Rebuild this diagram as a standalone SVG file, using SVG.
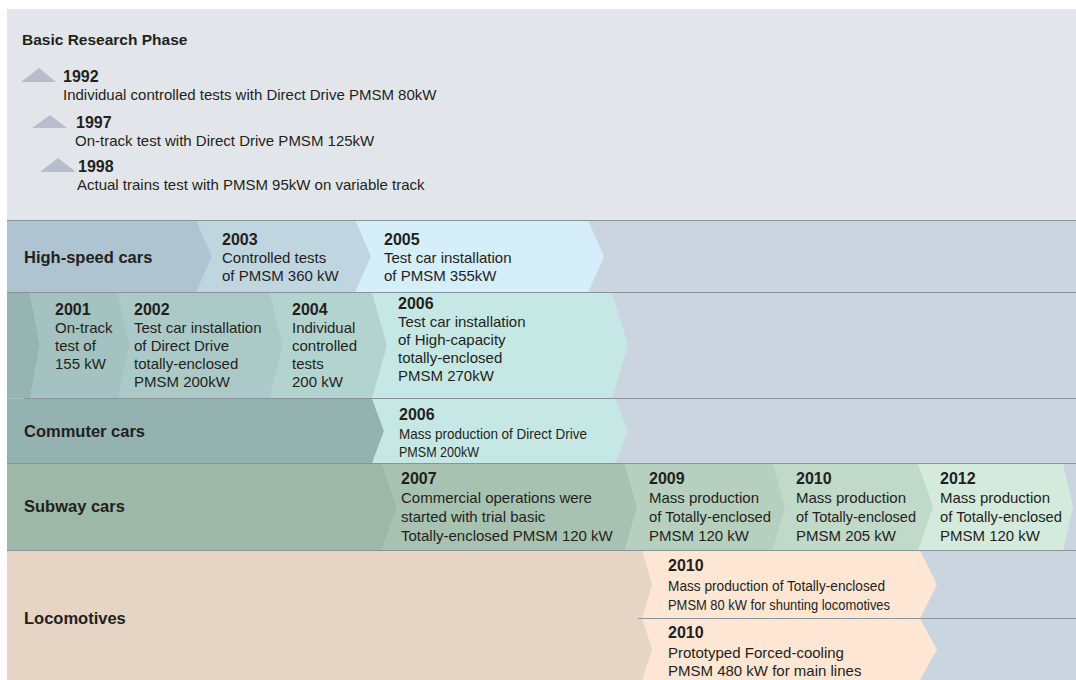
<svg xmlns="http://www.w3.org/2000/svg" width="1076" height="680" viewBox="0 0 1076 680">
<style>
text{font-family:"Liberation Sans",Arial,sans-serif;fill:#231f20;}
.t{font-size:15px;}
.c{font-size:15px;}
.y{font-size:16px;font-weight:bold;}
.h{font-size:15.5px;font-weight:bold;}
.lab{font-size:16.5px;font-weight:bold;}
.tri{fill:#b8bccd;}
.sep{stroke:#8b939a;stroke-width:1;fill:none;}
</style>
<rect x="0" y="0" width="1076" height="680" fill="#ffffff"/>
<g id="basic-research">
<rect x="7" y="9" width="1069" height="211" fill="#e2e6ea"/>
<text class="h" x="22" y="45">Basic Research Phase</text>
<polygon class="tri" points="21,82 39,68 56,82"/>
<text class="y" x="63" y="82">1992</text>
<text class="t" x="63" y="100">Individual controlled tests with Direct Drive PMSM 80kW</text>
<polygon class="tri" points="32,128 50,115 67,128"/>
<text class="y" x="76" y="128">1997</text>
<text class="t" x="75" y="146">On-track test with Direct Drive PMSM 125kW</text>
<polygon class="tri" points="40,172 58,158 76,172"/>
<text class="y" x="78" y="172">1998</text>
<text class="t" x="77" y="190">Actual trains test with PMSM 95kW on variable track</text>
</g>
<rect x="7" y="220" width="1069" height="460" fill="#cad5df"/>
<g id="high-speed-cars">
<path d="M7 220 L196 220 L212 256.5 L196 292.5 L7 292.5 Z" fill="#aec4d1"/>
<text class="lab" x="24" y="263">High-speed cars</text>
</g>
<g id="hs-2003">
<path d="M196 220 L355 220 L371 256.5 L355 292.5 L196 292.5 L212 256.5 Z" fill="#bfd5e0"/>
<text class="y" x="222" y="245">2003</text>
<text class="t" x="222" y="263">Controlled tests</text>
<text class="t" x="222" y="281">of PMSM 360 kW</text>
</g>
<g id="hs-2005">
<path d="M355 220 L588 220 L604 256.5 L588 292.5 L355 292.5 L371 256.5 Z" fill="#d4eefa"/>
<text class="y" x="384" y="245">2005</text>
<text class="t" x="384" y="263">Test car installation</text>
<text class="t" x="384" y="281">of PMSM 355kW</text>
</g>
<g id="cc-left">
<path d="M7 292.5 L30 292.5 L40 345.5 L30 398.5 L7 398.5 Z" fill="#96b4b1"/>
</g>
<g id="cc-2001">
<path d="M30 292.5 L118 292.5 L130 345.5 L118 398.5 L30 398.5 L40 345.5 Z" fill="#a4c3c0"/>
<text class="y" x="55" y="315">2001</text>
<text class="t" x="55" y="333">On-track</text>
<text class="t" x="55" y="351">test of</text>
<text class="t" x="55" y="369">155 kW</text>
</g>
<g id="cc-2002">
<path d="M118 292.5 L270 292.5 L283 345.5 L270 398.5 L118 398.5 L130 345.5 Z" fill="#abcac7"/>
<text class="y" x="134" y="315">2002</text>
<text class="t" x="134" y="333">Test car installation</text>
<text class="t" x="134" y="351">of Direct Drive</text>
<text class="t" x="134" y="369">totally-enclosed</text>
<text class="t" x="134" y="387">PMSM 200kW</text>
</g>
<g id="cc-2004">
<path d="M270 292.5 L372 292.5 L387 345.5 L372 398.5 L270 398.5 L283 345.5 Z" fill="#b3d3cf"/>
<text class="y" x="292" y="315">2004</text>
<text class="t" x="292" y="333">Individual</text>
<text class="t" x="292" y="351">controlled</text>
<text class="t" x="292" y="369">tests</text>
<text class="t" x="292" y="387">200 kW</text>
</g>
<g id="cc-2006">
<path d="M372 292.5 L612 292.5 L628 345.5 L612 398.5 L372 398.5 L387 345.5 Z" fill="#c6e8e4"/>
<text class="y" x="398" y="309">2006</text>
<text class="t" x="398" y="327">Test car installation</text>
<text class="t" x="398" y="345">of High-capacity</text>
<text class="t" x="398" y="363">totally-enclosed</text>
<text class="t" x="398" y="381">PMSM 270kW</text>
</g>
<g id="commuter-cars">
<path d="M7 398.5 L372 398.5 L384 431 L372 463.5 L7 463.5 Z" fill="#94b3b0"/>
<text class="lab" x="24" y="437">Commuter cars</text>
</g>
<g id="commuter-2006">
<path d="M372 398.5 L615 398.5 L628 431 L615 463.5 L372 463.5 L384 431 Z" fill="#c6e8e4"/>
<text class="y" x="399" y="420">2006</text>
<text class="c" x="399" y="439" textLength="188" lengthAdjust="spacingAndGlyphs">Mass production of Direct Drive</text>
<text class="c" x="399" y="457" textLength="80" lengthAdjust="spacingAndGlyphs">PMSM 200kW</text>
</g>
<g id="subway-cars">
<path d="M7 463.5 L382 463.5 L397 507 L382 550.5 L7 550.5 Z" fill="#9db8a7"/>
<text class="lab" x="24" y="512">Subway cars</text>
</g>
<g id="sub-2007">
<path d="M382 463.5 L625 463.5 L637 507 L625 550.5 L382 550.5 L397 507 Z" fill="#a8c2b1"/>
<text class="y" x="401" y="484">2007</text>
<text class="t" x="401" y="503">Commercial operations were</text>
<text class="t" x="401" y="522">started with trial basic</text>
<text class="t" x="401" y="541">Totally-enclosed PMSM 120 kW</text>
</g>
<g id="sub-2009">
<path d="M625 463.5 L773 463.5 L785 507 L773 550.5 L625 550.5 L637 507 Z" fill="#b6cfbe"/>
<text class="y" x="649" y="484">2009</text>
<text class="t" x="649" y="503" font-size="14.5">Mass production</text>
<text class="t" x="649" y="522" font-size="14.5" textLength="122" lengthAdjust="spacingAndGlyphs">of Totally-enclosed</text>
<text class="t" x="649" y="541" font-size="14.5">PMSM 120 kW</text>
</g>
<g id="sub-2010">
<path d="M773 463.5 L918 463.5 L933 507 L918 550.5 L773 550.5 L785 507 Z" fill="#c0d9c8"/>
<text class="y" x="796" y="484">2010</text>
<text class="t" x="796" y="503" font-size="14.5">Mass production</text>
<text class="t" x="796" y="522" font-size="14.5" textLength="120" lengthAdjust="spacingAndGlyphs">of Totally-enclosed</text>
<text class="t" x="796" y="541" font-size="14.5">PMSM 205 kW</text>
</g>
<g id="sub-2012">
<path d="M918 463.5 L1063 463.5 L1073 507 L1063 550.5 L918 550.5 L933 507 Z" fill="#d3eadc"/>
<text class="y" x="940" y="484">2012</text>
<text class="t" x="940" y="503" font-size="14.5">Mass production</text>
<text class="t" x="940" y="522" font-size="14.5" textLength="122" lengthAdjust="spacingAndGlyphs">of Totally-enclosed</text>
<text class="t" x="940" y="541" font-size="14.5">PMSM 120 kW</text>
</g>
<g id="locomotives">
<path d="M7 550.5 L642 550.5 L652 584.5 L642 618.5 L652 649.5 L642 680 L7 680 Z" fill="#e6d4c4"/>
<text class="lab" x="24" y="624">Locomotives</text>
</g>
<g id="loco-2010-shunting">
<path d="M642 550.5 L920 550.5 L937 584.5 L920 618.5 L642 618.5 L652 584.5 Z" fill="#fde6d4"/>
<text class="y" x="668" y="571">2010</text>
<text class="c" x="668" y="591" textLength="217" lengthAdjust="spacingAndGlyphs">Mass production of Totally-enclosed</text>
<text class="c" x="668" y="610" textLength="222" lengthAdjust="spacingAndGlyphs">PMSM 80 kW for shunting locomotives</text>
</g>
<g id="loco-2010-main">
<path d="M642 618.5 L920 618.5 L937 649.5 L920 680 L642 680 L652 649.5 Z" fill="#fde6d4"/>
<text class="y" x="668" y="638">2010</text>
<text class="t" x="668" y="658">Prototyped Forced-cooling</text>
<text class="t" x="668" y="676">PMSM 480 kW for main lines</text>
</g>
<g id="connectors">
<line class="sep" x1="7" y1="220.5" x2="1076" y2="220.5"/>
<line class="sep" x1="7" y1="292.5" x2="1076" y2="292.5"/>
<line class="sep" x1="24" y1="398.5" x2="1076" y2="398.5"/>
<line class="sep" x1="7" y1="463.5" x2="1076" y2="463.5"/>
<line class="sep" x1="7" y1="550.5" x2="1076" y2="550.5"/>
<line class="sep" x1="638" y1="618.5" x2="1076" y2="618.5"/>
</g>
</svg>
